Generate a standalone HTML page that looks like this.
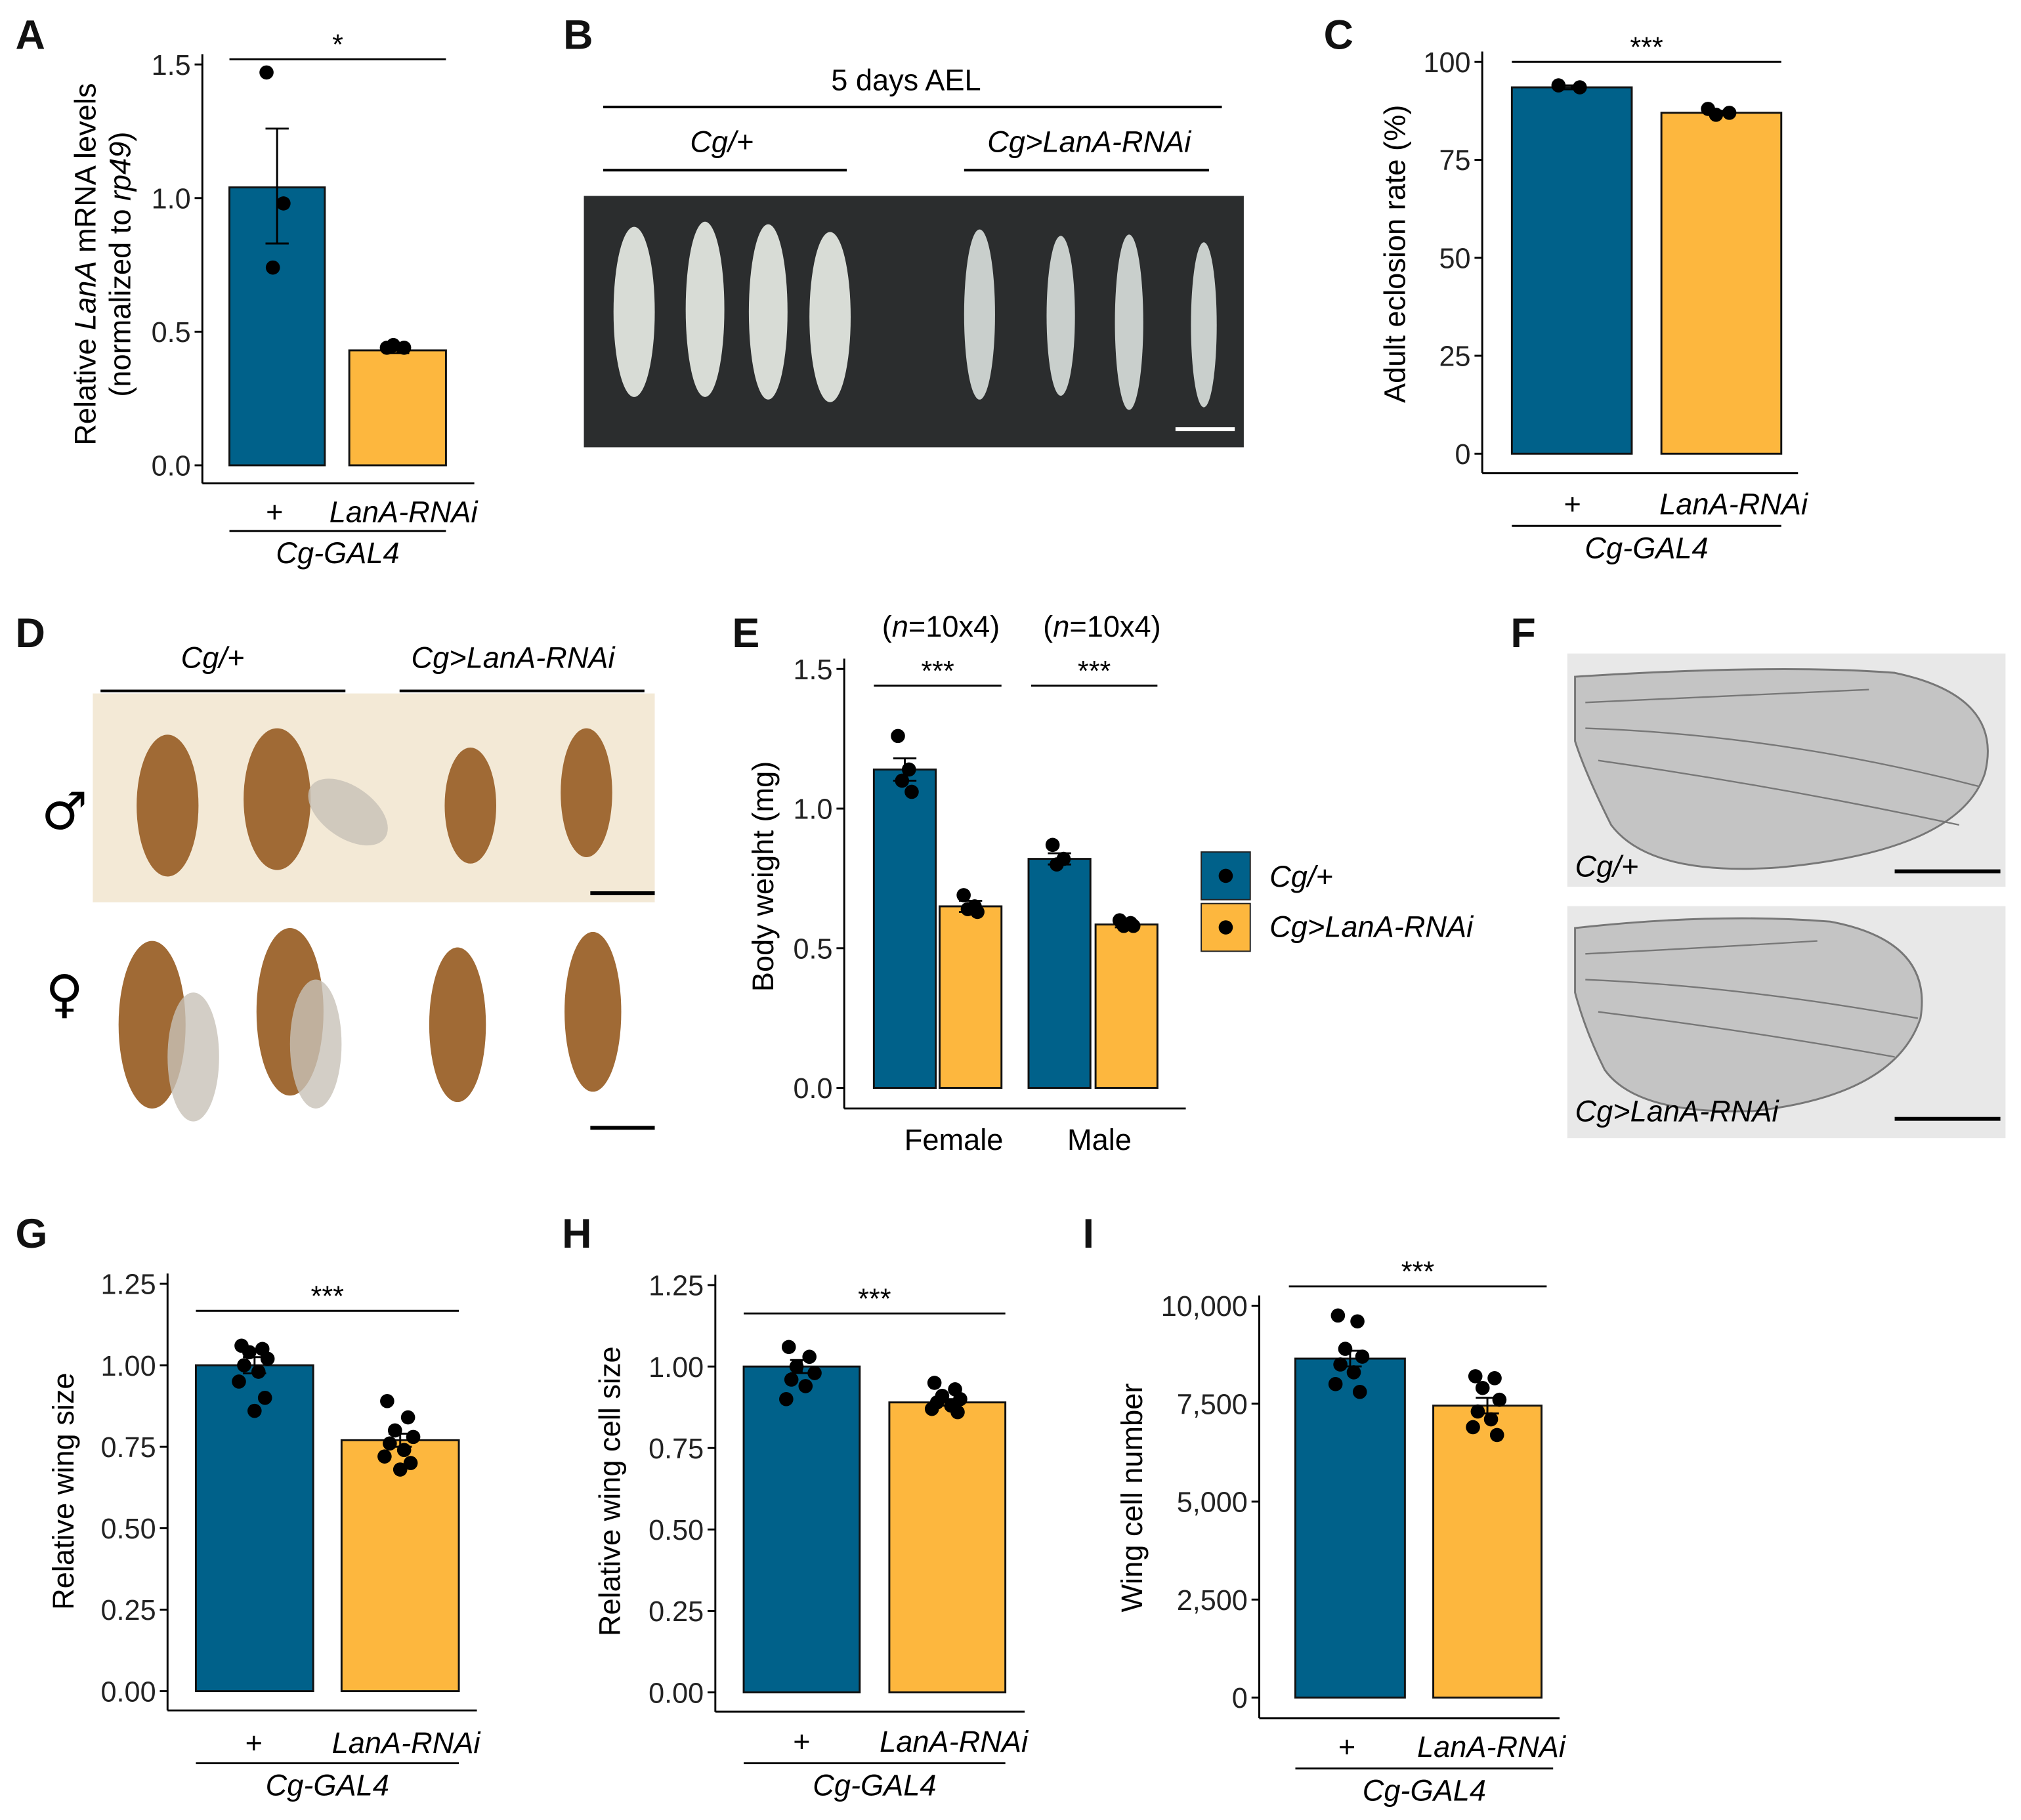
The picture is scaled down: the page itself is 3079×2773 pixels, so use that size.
<!DOCTYPE html>
<html><head><meta charset="utf-8">
<style>
html,body{margin:0;padding:0;background:#fff;}
svg{display:block;font-family:"Liberation Sans",Arial,sans-serif;}
.it{font-style:italic;}
</style></head>
<body>
<svg id="fig" width="3079" height="2773" viewBox="0 0 1568 1412" preserveAspectRatio="none" xmlns="http://www.w3.org/2000/svg">
<rect x="0" y="0" width="1568" height="1412" fill="#fff"/>
<g font-size="32" font-weight="bold" fill="#111">
<text x="12" y="38">A</text><text x="437" y="38">B</text><text x="1027" y="38">C</text>
<text x="12" y="502">D</text><text x="568" y="502">E</text><text x="1172" y="502">F</text>
<text x="12" y="968">G</text><text x="436" y="968">H</text><text x="840" y="968">I</text>
</g>

<g>
<text x="703" y="70" font-size="23" text-anchor="middle">5 days AEL</text>
<line x1="468" y1="83" x2="948" y2="83" stroke="#000" stroke-width="2"/>
<text x="560" y="118" font-size="23" text-anchor="middle" class="it">Cg/+</text>
<line x1="468" y1="132" x2="657" y2="132" stroke="#000" stroke-width="2"/>
<text x="845" y="118" font-size="23" text-anchor="middle" class="it">Cg&gt;LanA-RNAi</text>
<line x1="748" y1="132" x2="938" y2="132" stroke="#000" stroke-width="2"/>
<rect x="453" y="152" width="512" height="195" fill="#2b2d2e"/>
<g fill="#d8dcd6">
<ellipse cx="492" cy="242" rx="16" ry="66"/><ellipse cx="547" cy="240" rx="15" ry="68"/>
<ellipse cx="596" cy="242" rx="15" ry="68"/><ellipse cx="644" cy="246" rx="16" ry="66"/>
</g>
<g fill="#c9cfcc">
<ellipse cx="760" cy="244" rx="12" ry="66"/><ellipse cx="823" cy="245" rx="11" ry="62"/>
<ellipse cx="876" cy="250" rx="11" ry="68"/><ellipse cx="934" cy="252" rx="10" ry="64"/>
</g>
<line x1="912" y1="333" x2="958" y2="333" stroke="#fff" stroke-width="3"/>
</g>

<g>
<text x="165" y="518" font-size="23" text-anchor="middle" class="it">Cg/+</text>
<line x1="78" y1="536" x2="268" y2="536" stroke="#000" stroke-width="2"/>
<text x="398" y="518" font-size="23" text-anchor="middle" class="it">Cg&gt;LanA-RNAi</text>
<line x1="310" y1="536" x2="500" y2="536" stroke="#000" stroke-width="2"/>
<rect x="72" y="538" width="436" height="162" fill="#f3e9d6"/>
<text x="50" y="643" font-size="40" text-anchor="middle" style="font-family:'DejaVu Sans',sans-serif">♂</text>
<text x="50" y="785" font-size="40" text-anchor="middle" style="font-family:'DejaVu Sans',sans-serif">♀</text>
<g fill="#a06a35">
<ellipse cx="130" cy="625" rx="24" ry="55"/><ellipse cx="215" cy="620" rx="26" ry="55"/>
<ellipse cx="365" cy="625" rx="20" ry="45"/><ellipse cx="455" cy="615" rx="20" ry="50"/>
<ellipse cx="118" cy="795" rx="26" ry="65"/><ellipse cx="225" cy="785" rx="26" ry="65"/>
<ellipse cx="355" cy="795" rx="22" ry="60"/><ellipse cx="460" cy="785" rx="22" ry="62"/>
</g>
<g fill="#c8c2b8" opacity="0.8">
<ellipse cx="270" cy="630" rx="35" ry="20" transform="rotate(35 270 630)"/>
<ellipse cx="150" cy="820" rx="20" ry="50"/><ellipse cx="245" cy="810" rx="20" ry="50"/>
</g>
<line x1="458" y1="693" x2="508" y2="693" stroke="#000" stroke-width="3"/>
<line x1="458" y1="875" x2="508" y2="875" stroke="#000" stroke-width="3"/>
</g>

<g>
<rect x="1216" y="507" width="340" height="181" fill="#e8e8e8"/>
<rect x="1216" y="703" width="340" height="180" fill="#e8e8e8"/>
<path d="M1222 525 Q1380 515 1470 522 Q1555 540 1540 600 Q1520 660 1380 673 Q1280 680 1250 640 Q1230 600 1222 575 Z" fill="#c4c4c4" stroke="#777" stroke-width="1.5"/>
<path d="M1222 720 Q1330 708 1420 715 Q1500 730 1490 790 Q1470 850 1360 862 Q1270 865 1245 830 Q1230 800 1222 770 Z" fill="#c4c4c4" stroke="#777" stroke-width="1.5"/>
<g stroke="#777" fill="none" stroke-width="1.2">
<path d="M1230 565 Q1380 570 1535 610"/><path d="M1240 590 Q1380 610 1520 640"/><path d="M1230 545 Q1350 540 1450 535"/>
<path d="M1230 760 Q1350 765 1488 790"/><path d="M1240 785 Q1360 800 1470 820"/><path d="M1230 740 Q1330 735 1410 730"/>
</g>
<text x="1222" y="680" font-size="23" class="it">Cg/+</text>
<text x="1222" y="870" font-size="23" class="it">Cg&gt;LanA-RNAi</text>
<line x1="1470" y1="676" x2="1552" y2="676" stroke="#000" stroke-width="3"/>
<line x1="1470" y1="868" x2="1552" y2="868" stroke="#000" stroke-width="3"/>
</g>

<g>
<rect x="932" y="661" width="38" height="37" fill="#00618a" stroke="#222" stroke-width="1"/>
<circle cx="951" cy="679.5" r="5.5" fill="#000"/>
<rect x="932" y="701" width="38" height="37" fill="#fdb73e" stroke="#222" stroke-width="1"/>
<circle cx="951" cy="719.5" r="5.5" fill="#000"/>
<text x="985" y="688" font-size="23" class="it">Cg/+</text>
<text x="985" y="727" font-size="23" class="it">Cg&gt;LanA-RNAi</text>
</g>
</svg>
<script>
const aValues=[1.04,0.43];
const aErrLow=[0.83,0.42];
const aErrHigh=[1.26,0.44];
const aPtsCtrl=[1.47,0.98,0.74];
const aPtsKd=[0.44,0.44,0.45];
const aTicks=[0,0.5,1.0,1.5];
const aTickLabels=["0.0","0.5","1.0","1.5"];

const cValues=[93.5,87];
const cErrLow=[93,86.5];
const cErrHigh=[94,87.5];
const cPtsCtrl=[94,93.5];
const cPtsKd=[88,87,86.5];
const cTicks=[0,25,50,75,100];
const cTickLabels=["0","25","50","75","100"];

const eValues=[1.14,0.65,0.82,0.585];
const eErrLow=[1.10,0.63,0.80,0.575];
const eErrHigh=[1.18,0.67,0.84,0.595];
const ePtsFemaleCtrl=[1.26,1.14,1.10,1.06];
const ePtsFemaleKd=[0.69,0.65,0.64,0.63];
const ePtsMaleCtrl=[0.87,0.82,0.80];
const ePtsMaleKd=[0.60,0.59,0.58,0.58];
const eTicks=[0,0.5,1.0,1.5];
const eTickLabels=["0.0","0.5","1.0","1.5"];

const gValues=[1.0,0.77];
const gErrLow=[0.975,0.75];
const gErrHigh=[1.025,0.79];
const gPtsCtrl=[1.06,1.05,1.04,1.02,1.0,0.98,0.95,0.90,0.86];
const gPtsKd=[0.89,0.84,0.80,0.78,0.76,0.74,0.72,0.70,0.68];
const gTicks=[0,0.25,0.5,0.75,1.0,1.25];
const gTickLabels=["0.00","0.25","0.50","0.75","1.00","1.25"];

const hValues=[1.0,0.89];
const hErrLow=[0.98,0.88];
const hErrHigh=[1.02,0.90];
const hPtsCtrl=[1.06,1.03,1.0,0.98,0.96,0.94,0.90];
const hPtsKd=[0.95,0.93,0.91,0.90,0.89,0.88,0.87,0.86];
const hTicks=[0,0.25,0.5,0.75,1.0,1.25];
const hTickLabels=["0.00","0.25","0.50","0.75","1.00","1.25"];

const iValues=[8650,7450];
const iErrLow=[8450,7250];
const iErrHigh=[8850,7650];
const iPtsCtrl=[9750,9600,8900,8700,8500,8300,8000,7800];
const iPtsKd=[8200,8150,7900,7600,7300,7100,6900,6700];
const iTicks=[0,2500,5000,7500,10000];
const iTickLabels=["0","2,500","5,000","7,500","10,000"];

const BLUE="#00618a", ORANGE="#fdb73e";
const NS="http://www.w3.org/2000/svg";
const svg=document.getElementById('fig');
function mk(tag,attrs,parent){const e=document.createElementNS(NS,tag);for(const k in attrs)e.setAttribute(k,attrs[k]);(parent||svg).appendChild(e);return e;}
const jit=[-10,6,-4,10,-8,3,-12,8,0,-6];

function chart(o){
  const g=mk('g',{});
  
  
  const y=v=>o.base-(v-0)/o.vmax*(o.base-o.top);
  const ya=mk('line',{x1:o.ax,y1:o.top-8,x2:o.ax,y2:o.axisY,stroke:'#000','stroke-width':1.5},g);
  
  
  const xa=mk('line',{x1:o.ax,y1:o.axisY,x2:o.xEnd,y2:o.axisY,stroke:'#000','stroke-width':1.5},g);
  
  
  o.ticks.forEach((t,i)=>{
    mk('line',{x1:o.ax-6,y1:y(t),x2:o.ax,y2:y(t),stroke:'#000','stroke-width':1.5},g);
    const tl=mk('text',{x:o.ax-9,y:y(t)+8,'font-size':22,'text-anchor':'end',fill:'#222'},g);
    tl.textContent=o.tickLabels[i];
    
    
  });
  o.bars.forEach((b,i)=>{
    const r=mk('rect',{x:b.x1,y:y(o.values[i]),width:b.x2-b.x1,height:o.base-y(o.values[i]),fill:b.color,stroke:'#111','stroke-width':1.5},g);
    
    
    const cx=(b.x1+b.x2)/2;
    mk('line',{x1:cx,y1:y(o.errLow[i]),x2:cx,y2:y(o.errHigh[i]),stroke:'#000','stroke-width':1.5},g);
    mk('line',{x1:cx-9,y1:y(o.errLow[i]),x2:cx+9,y2:y(o.errLow[i]),stroke:'#000','stroke-width':1.5},g);
    mk('line',{x1:cx-9,y1:y(o.errHigh[i]),x2:cx+9,y2:y(o.errHigh[i]),stroke:'#000','stroke-width':1.5},g);
    b.pts.forEach((p,j)=>{
      const c=mk('circle',{cx:cx+jit[j%jit.length]*(b.x2-b.x1)/90,cy:y(p),r:5.5,fill:'#000'},g);
      
      
    });
  });
  o.titles.forEach(t=>{
    const tt=mk('text',{x:0,y:0,'font-size':23,'text-anchor':'middle',transform:`translate(${t.x},${o.titleY}) rotate(-90)`},g);
    tt.innerHTML=t.html;
    
    
  });
  o.sig.forEach(s=>{
    mk('line',{x1:s.x1,y1:s.y,x2:s.x2,y2:s.y,stroke:'#000','stroke-width':1.5},g);
    const st=mk('text',{x:(s.x1+s.x2)/2,y:s.y-4,'font-size':22,'text-anchor':'middle'},g);
    st.textContent=s.t;
    
    
  });
  if(o.genotype){
    const gt=o.genotype;
    const p=mk('text',{x:gt.plusX,y:gt.y,'font-size':23,'text-anchor':'middle'},g);p.textContent='+';
    
    
    const k=mk('text',{x:gt.kdX,y:gt.y,'font-size':23,'text-anchor':'middle','font-style':'italic'},g);k.textContent='LanA-RNAi';
    
    
    mk('line',{x1:gt.l1,y1:gt.lineY,x2:gt.l2,y2:gt.lineY,stroke:'#000','stroke-width':1.5},g);
    const d=mk('text',{x:(gt.l1+gt.l2)/2,y:gt.lineY+25,'font-size':23,'text-anchor':'middle','font-style':'italic'},g);d.textContent='Cg-GAL4';
    
    
  }
  return g;
}

chart({name:'chart-a-lana-mrna',ax:157,base:361,top:50,vmax:1.5,axisY:375,xEnd:368,ticks:aTicks,tickLabels:aTickLabels,
  values:aValues,errLow:aErrLow,errHigh:aErrHigh,
  bars:[{x1:178,x2:252,color:BLUE,pts:aPtsCtrl,label:'control'},{x1:271,x2:346,color:ORANGE,pts:aPtsKd,label:'knockdown'}],
  titles:[{x:74,html:'Relative <tspan font-style="italic">LanA</tspan> mRNA levels'},{x:101,html:'(normalized to <tspan font-style="italic">rp49</tspan>)'}],titleY:205,
  sig:[{x1:178,x2:346,y:46,t:'*'}],
  genotype:{plusX:213,kdX:313,y:405,l1:178,l2:346,lineY:412}});

chart({name:'chart-c-eclosion',ax:1150,base:352,top:48,vmax:100,axisY:367,xEnd:1395,ticks:cTicks,tickLabels:cTickLabels,
  values:cValues,errLow:cErrLow,errHigh:cErrHigh,
  bars:[{x1:1173,x2:1266,color:BLUE,pts:cPtsCtrl,label:'control'},{x1:1289,x2:1382,color:ORANGE,pts:cPtsKd,label:'knockdown'}],
  titles:[{x:1090,html:'Adult eclosion rate (%)'}],titleY:197,
  sig:[{x1:1173,x2:1382,y:48,t:'***'}],
  genotype:{plusX:1220,kdX:1345,y:399,l1:1173,l2:1382,lineY:408}});

const eg=chart({name:'chart-e-body-weight',ax:655,base:844,top:519,vmax:1.5,axisY:860,xEnd:920,ticks:eTicks,tickLabels:eTickLabels,
  values:eValues,errLow:eErrLow,errHigh:eErrHigh,
  bars:[{x1:678,x2:726,color:BLUE,pts:ePtsFemaleCtrl,label:'female-control'},{x1:729,x2:777,color:ORANGE,pts:ePtsFemaleKd,label:'female-knockdown'},
        {x1:798,x2:846,color:BLUE,pts:ePtsMaleCtrl,label:'male-control'},{x1:850,x2:898,color:ORANGE,pts:ePtsMaleKd,label:'male-knockdown'}],
  titles:[{x:600,html:'Body weight (mg)'}],titleY:680,
  sig:[{x1:678,x2:777,y:532,t:'***'},{x1:800,x2:898,y:532,t:'***'}]});
[['Female',740],['Male',853]].forEach(([t,x])=>{
  const e=mk('text',{x:x,y:892,'font-size':23,'text-anchor':'middle'},eg);e.textContent=t;
  
  
});
[730,855].forEach(x=>{
  const e=mk('text',{x:x,y:494,'font-size':23,'text-anchor':'middle'},eg);
  e.innerHTML='(<tspan font-style="italic">n</tspan>=10x4)';
  
  
});

chart({name:'chart-g-wing-size',ax:130,base:1312,top:996,vmax:1.25,axisY:1327,xEnd:370,ticks:gTicks,tickLabels:gTickLabels,
  values:gValues,errLow:gErrLow,errHigh:gErrHigh,
  bars:[{x1:152,x2:243,color:BLUE,pts:gPtsCtrl,label:'control'},{x1:265,x2:356,color:ORANGE,pts:gPtsKd,label:'knockdown'}],
  titles:[{x:57,html:'Relative wing size'}],titleY:1157,
  sig:[{x1:152,x2:356,y:1017,t:'***'}],
  genotype:{plusX:197,kdX:315,y:1360,l1:152,l2:356,lineY:1368}});

chart({name:'chart-h-wing-cell-size',ax:555,base:1313,top:997,vmax:1.25,axisY:1328,xEnd:795,ticks:hTicks,tickLabels:hTickLabels,
  values:hValues,errLow:hErrLow,errHigh:hErrHigh,
  bars:[{x1:577,x2:667,color:BLUE,pts:hPtsCtrl,label:'control'},{x1:690,x2:780,color:ORANGE,pts:hPtsKd,label:'knockdown'}],
  titles:[{x:481,html:'Relative wing cell size'}],titleY:1157,
  sig:[{x1:577,x2:780,y:1019,t:'***'}],
  genotype:{plusX:622,kdX:740,y:1359,l1:577,l2:780,lineY:1368}});

chart({name:'chart-i-wing-cell-number',ax:977,base:1317,top:1013,vmax:10000,axisY:1333,xEnd:1210,ticks:iTicks,tickLabels:iTickLabels,
  values:iValues,errLow:iErrLow,errHigh:iErrHigh,
  bars:[{x1:1005,x2:1090,color:BLUE,pts:iPtsCtrl,label:'control'},{x1:1112,x2:1196,color:ORANGE,pts:iPtsKd,label:'knockdown'}],
  titles:[{x:886,html:'Wing cell number'}],titleY:1162,
  sig:[{x1:1000,x2:1200,y:998,t:'***'}],
  genotype:{plusX:1045,kdX:1157,y:1363,l1:1005,l2:1205,lineY:1372}});
</script>
</body></html>
